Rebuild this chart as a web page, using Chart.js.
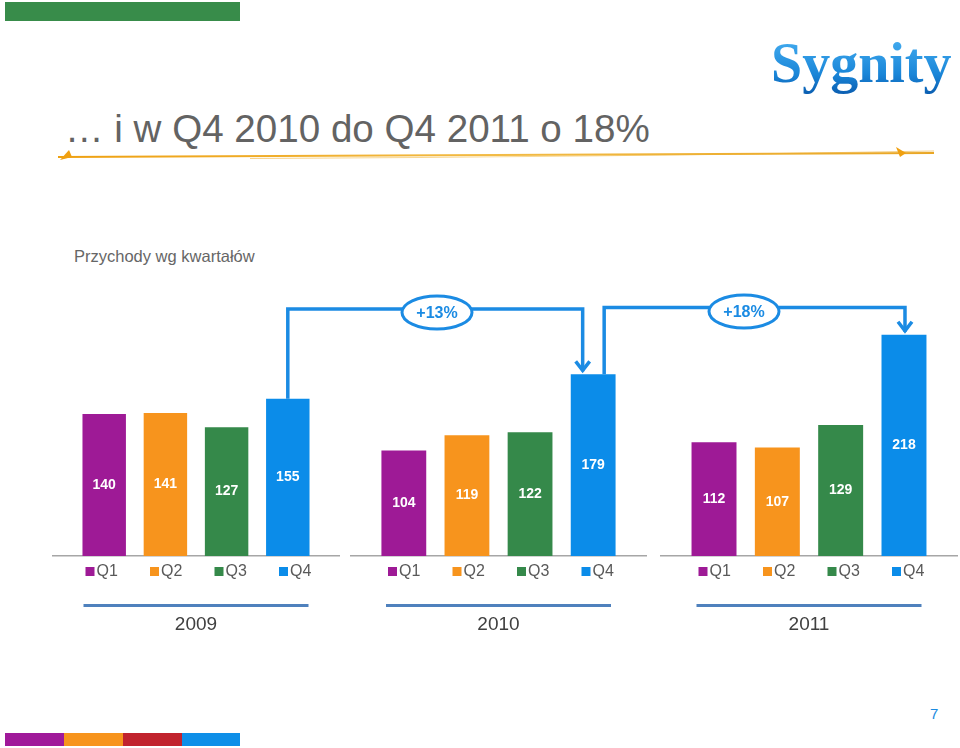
<!DOCTYPE html>
<html><head><meta charset="utf-8">
<script src="https://cdn.jsdelivr.net/npm/chart.js@4.4.0/dist/chart.umd.min.js"></script>
<style>
html,body{margin:0;padding:0;background:#fff;}
#page{position:relative;width:960px;height:748px;overflow:hidden;font-family:"Liberation Sans",Arial,sans-serif;background:#fff;}
.abs{position:absolute;white-space:nowrap;}
canvas.chart{position:absolute;}
#overlay{position:absolute;left:0;top:0;pointer-events:none;}
</style></head>
<body><div id="page">
<div class="abs" style="left:5px;top:2px;width:235px;height:19px;background:#388c4a"></div>
<div class="abs" style="left:65px;top:110px;font-size:38.6px;line-height:38.6px;color:#636363">… i w Q4 2010 do Q4 2011 o 18%</div>
<div class="abs" style="left:771px;top:35px;padding-bottom:22px;font-family:'Liberation Serif',serif;font-weight:bold;font-size:56px;line-height:56px;background:linear-gradient(180deg,#48b0f2 0%,#1a86d8 50%,#0b5fb2 75%,#1a80d0 100%);-webkit-background-clip:text;background-clip:text;color:transparent;">Sygnity</div>
<div class="abs" style="left:74px;top:248px;font-size:16.5px;line-height:16.5px;color:#666">Przychody wg kwartałów</div>
<div class="abs" style="left:930px;top:706px;font-size:15px;line-height:15px;color:#1b8be0">7</div>
<div class="abs" style="left:5px;top:733px;width:59px;height:13px;background:#a0199a"></div>
<div class="abs" style="left:64px;top:733px;width:59px;height:13px;background:#f7941d"></div>
<div class="abs" style="left:123px;top:733px;width:59px;height:13px;background:#c1232e"></div>
<div class="abs" style="left:182px;top:733px;width:58px;height:13px;background:#0e8fe8"></div>
<canvas id="c2009" class="chart" width="288" height="358" style="left:52px;top:280px"></canvas>
<canvas id="c2010" class="chart" width="297" height="358" style="left:350px;top:280px"></canvas>
<canvas id="c2011" class="chart" width="298" height="358" style="left:660px;top:280px"></canvas>
<canvas id="overlay" width="960" height="748"></canvas>
</div>
<script>
const years = ['2009', '2010', '2011'];
const quarters = ['Q1', 'Q2', 'Q3', 'Q4'];
const rev2009 = [140, 141, 127, 155];
const rev2010 = [104, 119, 122, 179];
const rev2011 = [112, 107, 129, 218];
const growthLabels = ['+13%', '+18%'];
const quarterColors = ['#9e1a96', '#f7941d', '#35894a', '#0b8ce9'];

const FONT = '"Liberation Sans", Arial, sans-serif';

const valueLabels = {
  id: 'valueLabels',
  afterDatasetsDraw(chart) {
    const ctx = chart.ctx;
    ctx.save();
    ctx.font = 'bold 14px ' + FONT;
    ctx.fillStyle = '#ffffff';
    ctx.textAlign = 'center';
    ctx.textBaseline = 'middle';
    chart.data.datasets.forEach((ds, i) => {
      chart.getDatasetMeta(i).data.forEach((el, j) => {
        ctx.fillText(String(ds.data[j]), el.x, (el.y + el.base) / 2);
      });
    });
    ctx.restore();
  }
};

const quarterLegend = {
  id: 'quarterLegend',
  afterDraw(chart) {
    const ctx = chart.ctx;
    const area = chart.chartArea;
    const els = chart.data.datasets.map((d, i) => chart.getDatasetMeta(i).data[0]);
    const cx = (els[0].x + els[els.length - 1].x) / 2;
    const yMid = area.bottom + 15.5;
    const pitch = 64.5;
    const first = cx + 2.5 - 113;
    ctx.save();
    ctx.font = '16px ' + FONT;
    ctx.textAlign = 'left';
    ctx.textBaseline = 'middle';
    chart.data.datasets.forEach((ds, i) => {
      const bx = first + i * pitch;
      ctx.fillStyle = ds.backgroundColor;
      ctx.fillRect(bx, yMid - 4.5, 9, 9);
      ctx.fillStyle = '#595959';
      ctx.fillText(ds.label, bx + 11, yMid + 0.5);
    });
    ctx.strokeStyle = '#4f81bd';
    ctx.lineWidth = 3;
    ctx.beginPath();
    ctx.moveTo(cx - 112.5, area.bottom + 49.5);
    ctx.lineTo(cx + 112.5, area.bottom + 49.5);
    ctx.stroke();
    ctx.restore();
  }
};

function makeChart(id, year, values) {
  return new Chart(document.getElementById(id), {
    type: 'bar',
    data: {
      labels: [year],
      datasets: quarters.map((q, i) => ({
        label: q,
        data: [values[i]],
        backgroundColor: quarterColors[i],
        borderWidth: 0,
        categoryPercentage: 0.85,
        barPercentage: 0.71
      }))
    },
    options: {
      responsive: false,
      animation: false,
      devicePixelRatio: 1,
      layout: { padding: { top: 0, bottom: 4, left: 0, right: 0 } },
      plugins: { legend: { display: false }, tooltip: { enabled: false }, title: { display: false } },
      scales: {
        x: {
          grid: { display: false, drawTicks: false },
          ticks: { display: false },
          border: { display: true, color: '#a6a6a6', width: 1.5 },
          title: {
            display: true, text: year, color: '#404040',
            font: { family: FONT, size: 19, lineHeight: 1 },
            padding: { top: 59, bottom: 0 }
          }
        },
        y: { display: false, min: 0, max: 272 }
      }
    },
    plugins: [valueLabels, quarterLegend]
  });
}

const charts = [
  makeChart('c2009', years[0], rev2009),
  makeChart('c2010', years[1], rev2010),
  makeChart('c2011', years[2], rev2011)
];

// overlay: title swoosh and growth arrows
const ov = document.getElementById('overlay');
const o = ov.getContext('2d');

(function () {
  const g = o.createLinearGradient(55, 0, 935, 0);
  g.addColorStop(0, '#eea010');
  g.addColorStop(0.5, '#f2bb45');
  g.addColorStop(1, '#e9a624');
  o.strokeStyle = g;
  o.lineWidth = 2;
  o.beginPath();
  o.moveTo(58, 157);
  o.quadraticCurveTo(500, 156.5, 934, 153);
  o.stroke();
  o.globalAlpha = 0.55;
  o.lineWidth = 1;
  o.beginPath();
  o.moveTo(250, 158.5);
  o.quadraticCurveTo(600, 157, 934, 151);
  o.stroke();
  o.globalAlpha = 1;
  o.fillStyle = '#f0a010';
  o.beginPath();
  o.moveTo(60, 160); o.lineTo(69, 150); o.lineTo(72, 157); o.closePath(); o.fill();
  o.beginPath();
  o.moveTo(896, 147); o.lineTo(906, 153); o.lineTo(900, 157); o.closePath(); o.fill();
})();

function topOf(chart, k) {
  const el = chart.getDatasetMeta(k).data[0];
  return { x: chart.canvas.offsetLeft + el.x, y: chart.canvas.offsetTop + el.y };
}
const q4a = topOf(charts[0], 3), q4b = topOf(charts[1], 3), q4c = topOf(charts[2], 3);

o.strokeStyle = '#1b8be3';
o.lineWidth = 3.5;
o.lineJoin = 'miter';
o.lineCap = 'butt';

function connector(x0, y0, yH, x1, y1) {
  o.beginPath();
  o.moveTo(x0, y0);
  o.lineTo(x0, yH);
  o.lineTo(x1, yH);
  o.lineTo(x1, y1 - 3);
  o.stroke();
  o.beginPath();
  o.moveTo(x1 - 7, y1 - 13);
  o.lineTo(x1, y1 - 4);
  o.lineTo(x1 + 7, y1 - 13);
  o.stroke();
}
connector(q4a.x, q4a.y, 309, q4b.x - 10.5, q4b.y);
connector(q4b.x + 11, q4b.y, 307.5, q4c.x + 1, q4c.y);

function badge(cx, cy, text) {
  o.beginPath();
  o.ellipse(cx, cy, 35, 16.5, 0, 0, Math.PI * 2);
  o.fillStyle = '#ffffff';
  o.fill();
  o.lineWidth = 3;
  o.stroke();
  o.fillStyle = '#1b8be3';
  o.font = 'bold 16px ' + FONT;
  o.textAlign = 'center';
  o.textBaseline = 'middle';
  o.fillText(text, cx, cy + 1);
}
badge(437, 312.5, growthLabels[0]);
badge(744, 311.5, growthLabels[1]);
</script>
</body></html>
